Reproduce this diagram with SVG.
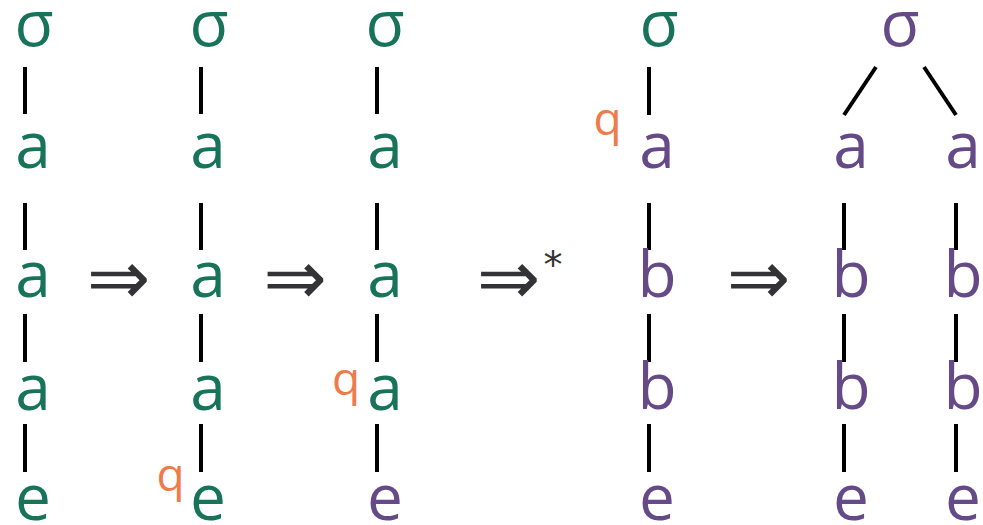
<svg xmlns="http://www.w3.org/2000/svg" width="983" height="525" viewBox="0 0 983 525">
<style>
.t{font-family:"Open Sans","Noto Sans",sans-serif;font-size:64px;text-anchor:middle;}
.g{fill:#17735a}
.p{fill:#654a87}
.q{font-family:"Open Sans","Noto Sans",sans-serif;font-size:46px;text-anchor:middle;fill:#ef7b4a;}
.ar{font-family:"DejaVu Sans",sans-serif;font-size:76px;text-anchor:middle;fill:#333336}
.st{font-family:"DejaVu Sans",sans-serif;font-size:38px;text-anchor:middle;fill:#333336}
.e line{stroke:#000;stroke-width:4}
</style>
<rect width="983" height="525" fill="#fff"/>
<g id="connectors" class="e">
<line x1="25" y1="67" x2="25" y2="114"/><line x1="25" y1="203" x2="25" y2="250"/><line x1="25" y1="314" x2="25" y2="362"/><line x1="25" y1="424" x2="25" y2="472"/>
<line x1="201" y1="67" x2="201" y2="114"/><line x1="201" y1="203" x2="201" y2="250"/><line x1="201" y1="314" x2="201" y2="362"/><line x1="201" y1="424" x2="201" y2="472"/>
<line x1="377" y1="67" x2="377" y2="114"/><line x1="377" y1="203" x2="377" y2="250"/><line x1="377" y1="314" x2="377" y2="362"/><line x1="377" y1="424" x2="377" y2="472"/>
<line x1="649" y1="67" x2="649" y2="115"/><line x1="649" y1="203" x2="649" y2="250"/><line x1="649" y1="314" x2="649" y2="362"/><line x1="649" y1="424" x2="649" y2="472"/>
<line x1="876" y1="67" x2="844" y2="115"/><line x1="844" y1="203" x2="844" y2="250"/><line x1="844" y1="314" x2="844" y2="362"/><line x1="844" y1="424" x2="844" y2="472"/>
<line x1="924" y1="67" x2="956" y2="115"/><line x1="956" y1="203" x2="956" y2="250"/><line x1="956" y1="314" x2="956" y2="362"/><line x1="956" y1="424" x2="956" y2="472"/>
</g>
<g id="tree1">
<text class="t g" x="34" y="46">σ</text>
<text class="t g" x="33" y="168">a</text>
<text class="t g" x="33" y="297">a</text>
<text class="t g" x="33" y="410">a</text>
<text class="t g" x="33" y="520">e</text>
</g>
<g id="tree2">
<text class="t g" x="209" y="46">σ</text>
<text class="t g" x="208" y="168">a</text>
<text class="t g" x="208" y="297">a</text>
<text class="t g" x="208" y="410">a</text>
<text class="t g" x="208" y="520">e</text>
<text class="q" x="170.5" y="491">q</text>
</g>
<g id="tree3">
<text class="t g" x="385" y="46">σ</text>
<text class="t g" x="385" y="168">a</text>
<text class="t g" x="385" y="297">a</text>
<text class="t g" x="385" y="410">a</text>
<text class="t p" x="385" y="520">e</text>
<text class="q" x="346" y="395">q</text>
</g>
<g id="tree4">
<text class="t g" x="659" y="46">σ</text>
<text class="t p" x="657" y="168">a</text>
<text class="t p" x="657" y="297">b</text>
<text class="t p" x="657" y="409">b</text>
<text class="t p" x="657" y="520">e</text>
<text class="q" x="607.5" y="134.5">q</text>
</g>
<g id="tree5">
<text class="t p" x="900" y="46">σ</text>
<text class="t p" x="851" y="168">a</text>
<text class="t p" x="963" y="168">a</text>
<text class="t p" x="851" y="297">b</text>
<text class="t p" x="963" y="297">b</text>
<text class="t p" x="851" y="409">b</text>
<text class="t p" x="963" y="409">b</text>
<text class="t p" x="851" y="520">e</text>
<text class="t p" x="963" y="520">e</text>
</g>
<g id="arrows">
<text class="ar" x="118.5" y="304">⇒</text>
<text class="ar" x="295" y="304">⇒</text>
<text class="ar" x="508.5" y="304">⇒</text>
<text class="st" x="553" y="278">*</text>
<text class="ar" x="758.5" y="304">⇒</text>
</g>
</svg>
